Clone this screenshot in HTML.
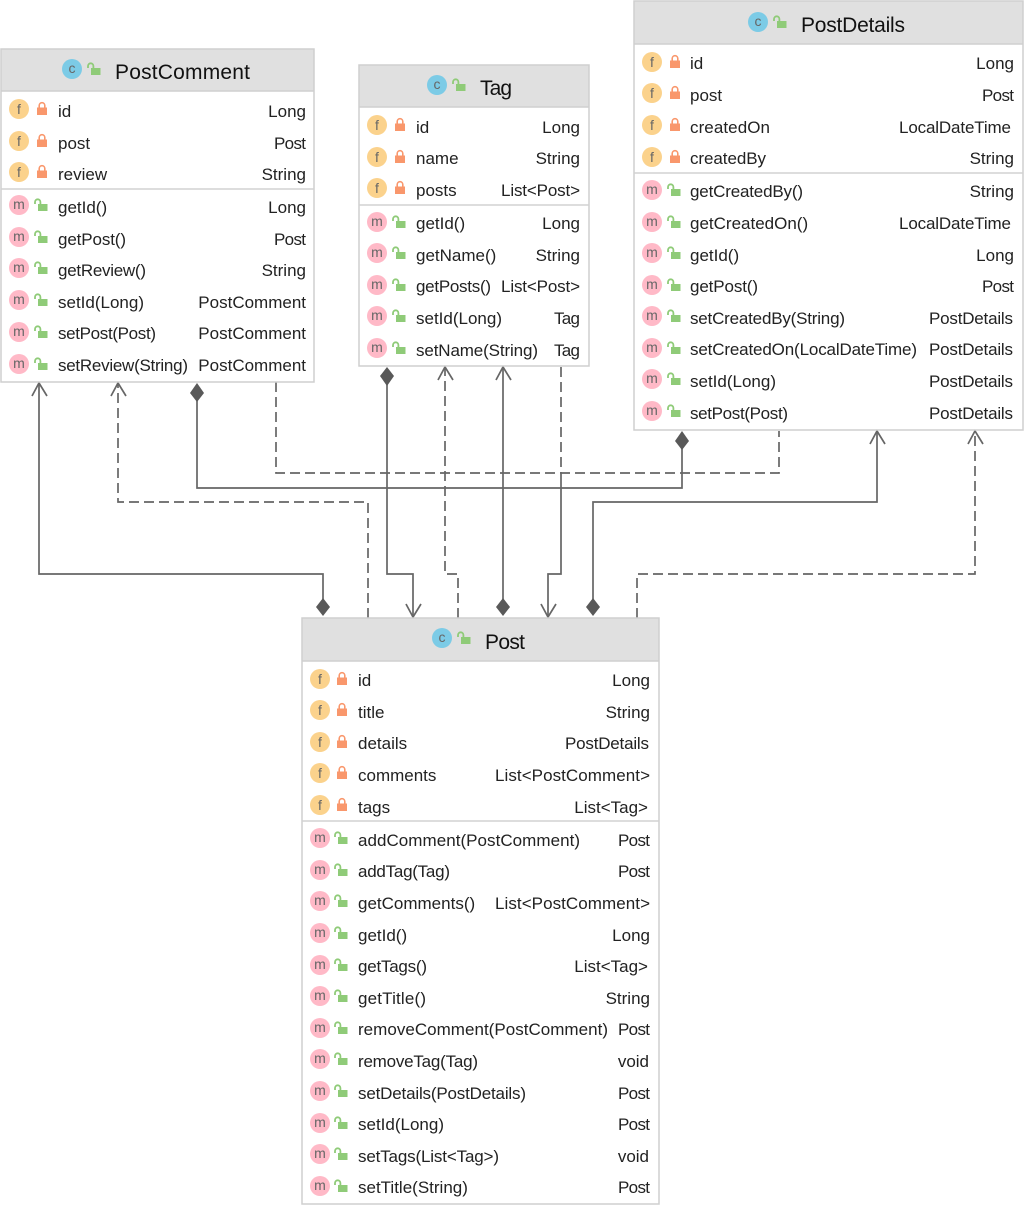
<!DOCTYPE html>
<html><head><meta charset="utf-8"><style>
html,body{margin:0;padding:0;background:#fff}
svg{display:block}
text{font-family:"Liberation Sans",sans-serif;font-size:17px;fill:#222}
.r{text-anchor:end}
.t{font-size:21px;fill:#111}
.box{fill:#fff;stroke:#cfcfcf;stroke-width:1.5}
.hd{fill:#e0e0e0}
.hl{stroke:#cfcfcf;stroke-width:1.5}
.dv{stroke:#d2d2d2;stroke-width:1.5}
.s,.d,.a{fill:none;stroke:#666;stroke-width:1.7}
.d{stroke-dasharray:10 5}
.dm{fill:#595959}
.cf{fill:#fbd28c}.cm{fill:#ffb9c7}.cc{fill:#7ccbe6}
.il{font-size:14px;fill:#666;text-anchor:middle}
.lk{fill:#f9976c}
.ul{fill:#8fcb78}
.us{fill:none;stroke:#8fcb78;stroke-width:1.8}
.ls{fill:none;stroke:#f9976c;stroke-width:1.6}
</style></head><body>
<svg width="1024" height="1205" viewBox="0 0 1024 1205" xmlns="http://www.w3.org/2000/svg">
<defs>
<g id="lock"><rect class="lk" x="-5" y="-1.500" width="10" height="7.500"/><path class="ls" d="M-2.800-1.500v-2a2.800 2.800 0 0 1 5.600 0v2"/></g>
<g id="open"><rect class="ul" x="-3" y="-1" width="9.500" height="7"/><path class="us" d="M-6-1v-2a2.700 2.700 0 0 1 5.400 0v2"/></g>
</defs>

<!-- connectors -->
<path class="s" d="M323 600V574H39V383"/>
<path class="a" d="M32 396L39 383L47 396"/>
<path class="d" d="M368 618V502H118V383"/>
<path class="a" d="M111 396L118 383L126 396"/>
<path class="s" d="M197 400V488H682V448"/>
<path class="d" d="M276 382V473H779V431"/>
<path class="s" d="M387 384V574H413V617"/>
<path class="a" d="M406 604L413 617L421 604"/>
<path class="d" d="M458 618V574H445V367"/>
<path class="a" d="M438 380L445 367L453 380"/>
<path class="s" d="M503 600V367"/>
<path class="a" d="M496 380L503 367L511 380"/>
<path class="d" d="M561 367V473"/>
<path class="s" d="M561 473V574H548V617"/>
<path class="a" d="M541 604L548 617L556 604"/>
<path class="s" d="M593 600V502H877V431"/>
<path class="a" d="M870 444L877 431L885 444"/>
<path class="d" d="M637 618V574H975V431"/>
<path class="a" d="M968 444L975 431L983 444"/>
<path class="dm" d="M323 598L330 607L323 616L316 607Z"/>
<path class="dm" d="M503 598L510 607L503 616L496 607Z"/>
<path class="dm" d="M593 598L600 607L593 616L586 607Z"/>
<path class="dm" d="M197 383L204 393L197 402L190 393Z"/>
<path class="dm" d="M387 367L394 376L387 386L380 376Z"/>
<path class="dm" d="M682 431L689 441L682 450L675 441Z"/>

<!-- PostComment -->
<rect class="hd" x="1" y="49" width="313" height="42"/>
<rect class="box" style="fill:none" x="1" y="49" width="313" height="333"/>
<line class="hl" x1="1" x2="314" y1="91" y2="91"/>
<line class="dv" x1="1" x2="314" y1="189" y2="189"/>
<circle class="cc" cx="72" cy="69" r="10"/><text class="il" x="72" y="73">c</text><use href="#open" x="94" y="69"/>
<text class="t" x="115" y="79" textLength="135">PostComment</text>
<circle class="cf" cx="19" cy="109" r="10"/><text class="il" x="19" y="114">f</text><use href="#lock" x="42" y="109"/><text x="58" y="117">id</text><text class="r" x="306" y="117">Long</text>
<circle class="cf" cx="19" cy="141" r="10"/><text class="il" x="19" y="146">f</text><use href="#lock" x="42" y="141"/><text x="58" y="149">post</text><text class="r" x="306" y="149" textLength="32">Post</text>
<circle class="cf" cx="19" cy="172" r="10"/><text class="il" x="19" y="177">f</text><use href="#lock" x="42" y="172"/><text x="58" y="180">review</text><text class="r" x="306" y="180">String</text>
<circle class="cm" cx="19" cy="205" r="10"/><text class="il" x="19" y="209">m</text><use href="#open" x="41" y="205"/><text x="58" y="213">getId()</text><text class="r" x="306" y="213">Long</text>
<circle class="cm" cx="19" cy="237" r="10"/><text class="il" x="19" y="241">m</text><use href="#open" x="41" y="237"/><text x="58" y="245" textLength="68">getPost()</text><text class="r" x="306" y="245" textLength="32">Post</text>
<circle class="cm" cx="19" cy="268" r="10"/><text class="il" x="19" y="272">m</text><use href="#open" x="41" y="268"/><text x="58" y="276" textLength="88">getReview()</text><text class="r" x="306" y="276">String</text>
<circle class="cm" cx="19" cy="300" r="10"/><text class="il" x="19" y="304">m</text><use href="#open" x="41" y="300"/><text x="58" y="308">setId(Long)</text><text class="r" x="306" y="308">PostComment</text>
<circle class="cm" cx="19" cy="332" r="10"/><text class="il" x="19" y="336">m</text><use href="#open" x="41" y="332"/><text x="58" y="339" textLength="98">setPost(Post)</text><text class="r" x="306" y="339">PostComment</text>
<circle class="cm" cx="19" cy="364" r="10"/><text class="il" x="19" y="368">m</text><use href="#open" x="41" y="364"/><text x="58" y="371" textLength="130">setReview(String)</text><text class="r" x="306" y="371">PostComment</text>

<!-- Tag -->
<rect class="hd" x="359" y="65" width="230" height="42"/>
<rect class="box" style="fill:none" x="359" y="65" width="230" height="301"/>
<line class="hl" x1="359" x2="589" y1="107" y2="107"/>
<line class="dv" x1="359" x2="589" y1="205" y2="205"/>
<circle class="cc" cx="437" cy="85" r="10"/><text class="il" x="437" y="89">c</text><use href="#open" x="459" y="85"/>
<text class="t" x="480" y="95" textLength="32">Tag</text>
<circle class="cf" cx="377" cy="125" r="10"/><text class="il" x="377" y="130">f</text><use href="#lock" x="400" y="125"/><text x="416" y="133">id</text><text class="r" x="580" y="133">Long</text>
<circle class="cf" cx="377" cy="157" r="10"/><text class="il" x="377" y="162">f</text><use href="#lock" x="400" y="157"/><text x="416" y="164">name</text><text class="r" x="580" y="164">String</text>
<circle class="cf" cx="377" cy="188" r="10"/><text class="il" x="377" y="193">f</text><use href="#lock" x="400" y="188"/><text x="416" y="196">posts</text><text class="r" x="580" y="196" textLength="79">List&lt;Post&gt;</text>
<circle class="cm" cx="377" cy="222" r="10"/><text class="il" x="377" y="226">m</text><use href="#open" x="399" y="222"/><text x="416" y="229">getId()</text><text class="r" x="580" y="229">Long</text>
<circle class="cm" cx="377" cy="253" r="10"/><text class="il" x="377" y="257">m</text><use href="#open" x="399" y="253"/><text x="416" y="261">getName()</text><text class="r" x="580" y="261">String</text>
<circle class="cm" cx="377" cy="285" r="10"/><text class="il" x="377" y="289">m</text><use href="#open" x="399" y="285"/><text x="416" y="292" textLength="75">getPosts()</text><text class="r" x="580" y="292" textLength="79">List&lt;Post&gt;</text>
<circle class="cm" cx="377" cy="316" r="10"/><text class="il" x="377" y="320">m</text><use href="#open" x="399" y="316"/><text x="416" y="324">setId(Long)</text><text class="r" x="580" y="324" textLength="26">Tag</text>
<circle class="cm" cx="377" cy="348" r="10"/><text class="il" x="377" y="352">m</text><use href="#open" x="399" y="348"/><text x="416" y="356" textLength="122">setName(String)</text><text class="r" x="580" y="356" textLength="26">Tag</text>

<!-- PostDetails -->
<rect class="hd" x="634" y="1" width="389" height="43"/>
<rect class="box" style="fill:none" x="634" y="1" width="389" height="429"/>
<line class="hl" x1="634" x2="1023" y1="44" y2="44"/>
<line class="dv" x1="634" x2="1023" y1="173" y2="173"/>
<circle class="cc" cx="758" cy="22" r="10"/><text class="il" x="758" y="26">c</text><use href="#open" x="780" y="22"/>
<text class="t" x="801" y="32" textLength="104">PostDetails</text>
<circle class="cf" cx="652" cy="62" r="10"/><text class="il" x="652" y="67">f</text><use href="#lock" x="675" y="62"/><text x="690" y="69">id</text><text class="r" x="1014" y="69">Long</text>
<circle class="cf" cx="652" cy="93" r="10"/><text class="il" x="652" y="98">f</text><use href="#lock" x="675" y="93"/><text x="690" y="101">post</text><text class="r" x="1014" y="101" textLength="32">Post</text>
<circle class="cf" cx="652" cy="125" r="10"/><text class="il" x="652" y="130">f</text><use href="#lock" x="675" y="125"/><text x="690" y="133" textLength="80">createdOn</text><text class="r" x="1011" y="133" textLength="112">LocalDateTime</text>
<circle class="cf" cx="652" cy="157" r="10"/><text class="il" x="652" y="162">f</text><use href="#lock" x="675" y="157"/><text x="690" y="164" textLength="76">createdBy</text><text class="r" x="1014" y="164">String</text>
<circle class="cm" cx="652" cy="190" r="10"/><text class="il" x="652" y="194">m</text><use href="#open" x="674" y="190"/><text x="690" y="197" textLength="113">getCreatedBy()</text><text class="r" x="1014" y="197">String</text>
<circle class="cm" cx="652" cy="222" r="10"/><text class="il" x="652" y="226">m</text><use href="#open" x="674" y="222"/><text x="690" y="229">getCreatedOn()</text><text class="r" x="1011" y="229" textLength="112">LocalDateTime</text>
<circle class="cm" cx="652" cy="253" r="10"/><text class="il" x="652" y="257">m</text><use href="#open" x="674" y="253"/><text x="690" y="261">getId()</text><text class="r" x="1014" y="261">Long</text>
<circle class="cm" cx="652" cy="285" r="10"/><text class="il" x="652" y="289">m</text><use href="#open" x="674" y="285"/><text x="690" y="292" textLength="68">getPost()</text><text class="r" x="1014" y="292" textLength="32">Post</text>
<circle class="cm" cx="652" cy="316" r="10"/><text class="il" x="652" y="320">m</text><use href="#open" x="674" y="316"/><text x="690" y="324" textLength="155">setCreatedBy(String)</text><text class="r" x="1013" y="324" textLength="84">PostDetails</text>
<circle class="cm" cx="652" cy="348" r="10"/><text class="il" x="652" y="352">m</text><use href="#open" x="674" y="348"/><text x="690" y="355" textLength="227">setCreatedOn(LocalDateTime)</text><text class="r" x="1013" y="355" textLength="84">PostDetails</text>
<circle class="cm" cx="652" cy="379" r="10"/><text class="il" x="652" y="383">m</text><use href="#open" x="674" y="379"/><text x="690" y="387">setId(Long)</text><text class="r" x="1013" y="387" textLength="84">PostDetails</text>
<circle class="cm" cx="652" cy="411" r="10"/><text class="il" x="652" y="415">m</text><use href="#open" x="674" y="411"/><text x="690" y="419" textLength="98">setPost(Post)</text><text class="r" x="1013" y="419" textLength="84">PostDetails</text>

<!-- Post -->
<rect class="hd" x="302" y="618" width="357" height="43"/>
<rect class="box" style="fill:none" x="302" y="618" width="357" height="586"/>
<line class="hl" x1="302" x2="659" y1="661" y2="661"/>
<line class="dv" x1="302" x2="659" y1="821" y2="821"/>
<circle class="cc" cx="442" cy="638" r="10"/><text class="il" x="442" y="642">c</text><use href="#open" x="464" y="638"/>
<text class="t" x="485" y="649" textLength="40">Post</text>
<circle class="cf" cx="320" cy="679" r="10"/><text class="il" x="320" y="684">f</text><use href="#lock" x="342" y="679"/><text x="358" y="686">id</text><text class="r" x="650" y="686">Long</text>
<circle class="cf" cx="320" cy="710" r="10"/><text class="il" x="320" y="715">f</text><use href="#lock" x="342" y="710"/><text x="358" y="718">title</text><text class="r" x="650" y="718">String</text>
<circle class="cf" cx="320" cy="742" r="10"/><text class="il" x="320" y="747">f</text><use href="#lock" x="342" y="742"/><text x="358" y="749">details</text><text class="r" x="649" y="749" textLength="84">PostDetails</text>
<circle class="cf" cx="320" cy="773" r="10"/><text class="il" x="320" y="778">f</text><use href="#lock" x="342" y="773"/><text x="358" y="781">comments</text><text class="r" x="650" y="781" textLength="155">List&lt;PostComment&gt;</text>
<circle class="cf" cx="320" cy="805" r="10"/><text class="il" x="320" y="810">f</text><use href="#lock" x="342" y="805"/><text x="358" y="813">tags</text><text class="r" x="648" y="813">List&lt;Tag&gt;</text>
<circle class="cm" cx="320" cy="838" r="10"/><text class="il" x="320" y="842">m</text><use href="#open" x="341" y="838"/><text x="358" y="846" textLength="222">addComment(PostComment)</text><text class="r" x="650" y="846" textLength="32">Post</text>
<circle class="cm" cx="320" cy="870" r="10"/><text class="il" x="320" y="874">m</text><use href="#open" x="341" y="870"/><text x="358" y="877" textLength="92">addTag(Tag)</text><text class="r" x="650" y="877" textLength="32">Post</text>
<circle class="cm" cx="320" cy="901" r="10"/><text class="il" x="320" y="905">m</text><use href="#open" x="341" y="901"/><text x="358" y="909">getComments()</text><text class="r" x="650" y="909" textLength="155">List&lt;PostComment&gt;</text>
<circle class="cm" cx="320" cy="933" r="10"/><text class="il" x="320" y="937">m</text><use href="#open" x="341" y="933"/><text x="358" y="941">getId()</text><text class="r" x="650" y="941">Long</text>
<circle class="cm" cx="320" cy="965" r="10"/><text class="il" x="320" y="969">m</text><use href="#open" x="341" y="965"/><text x="358" y="972" textLength="69">getTags()</text><text class="r" x="648" y="972">List&lt;Tag&gt;</text>
<circle class="cm" cx="320" cy="996" r="10"/><text class="il" x="320" y="1000">m</text><use href="#open" x="341" y="996"/><text x="358" y="1004" textLength="68">getTitle()</text><text class="r" x="650" y="1004">String</text>
<circle class="cm" cx="320" cy="1028" r="10"/><text class="il" x="320" y="1032">m</text><use href="#open" x="341" y="1028"/><text x="358" y="1035" textLength="250">removeComment(PostComment)</text><text class="r" x="650" y="1035" textLength="32">Post</text>
<circle class="cm" cx="320" cy="1059" r="10"/><text class="il" x="320" y="1063">m</text><use href="#open" x="341" y="1059"/><text x="358" y="1067" textLength="120">removeTag(Tag)</text><text class="r" x="649" y="1067">void</text>
<circle class="cm" cx="320" cy="1091" r="10"/><text class="il" x="320" y="1095">m</text><use href="#open" x="341" y="1091"/><text x="358" y="1099" textLength="168">setDetails(PostDetails)</text><text class="r" x="650" y="1099" textLength="32">Post</text>
<circle class="cm" cx="320" cy="1123" r="10"/><text class="il" x="320" y="1127">m</text><use href="#open" x="341" y="1123"/><text x="358" y="1130">setId(Long)</text><text class="r" x="650" y="1130" textLength="32">Post</text>
<circle class="cm" cx="320" cy="1154" r="10"/><text class="il" x="320" y="1158">m</text><use href="#open" x="341" y="1154"/><text x="358" y="1162" textLength="141">setTags(List&lt;Tag&gt;)</text><text class="r" x="649" y="1162">void</text>
<circle class="cm" cx="320" cy="1186" r="10"/><text class="il" x="320" y="1190">m</text><use href="#open" x="341" y="1186"/><text x="358" y="1193">setTitle(String)</text><text class="r" x="650" y="1193" textLength="32">Post</text>
</svg>
</body></html>
